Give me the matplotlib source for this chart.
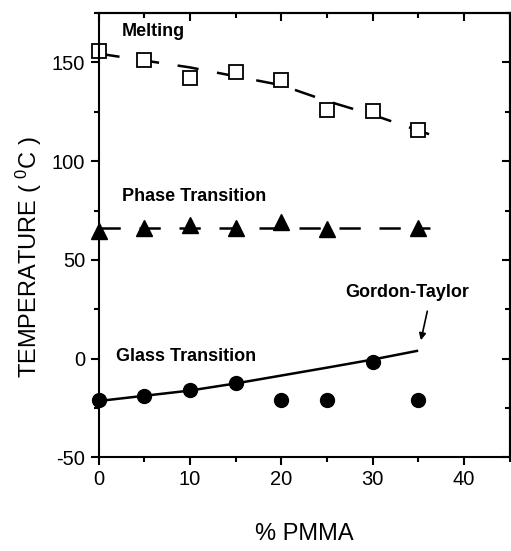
import matplotlib
matplotlib.use("Agg")
import matplotlib.pyplot as plt
from matplotlib.ticker import MultipleLocator

plt.rcParams['font.family'] = ['Liberation Sans', 'DejaVu Sans']
plt.rcParams['axes.unicode_minus'] = False

# measured points
pmma = [0, 5, 10, 15, 20, 25, 30, 35]
melting = [156, 151, 142, 145, 141, 126, 125.5, 115.6]

pmma_phase = [0, 5, 10, 15, 20, 25, 35]
phase = [64.7, 66, 67.7, 66, 69.4, 65.5, 66.4]

glass = [-21.1, -19, -16, -12.4, -21, -21, -1.7, -21]

# guide curves
melt_fit_x = [0, 10, 20, 25, 30, 36.3]
melt_fit_y = [154.5, 147.5, 138.5, 130.5, 123.5, 113.5]

phase_fit_x = [0, 36.3]
phase_fit_y = [66, 66]

gt_x = [0, 10, 15, 20, 25, 30, 35]
gt_y = [-21.5, -16.2, -12.6, -8.6, -4.6, -0.5, 4]

fig = plt.figure(figsize=(5.11, 5.51), dpi=100)
ax = fig.add_axes([98.5/511, 93.7/551, (509.5-98.5)/511, (457.3-13.1)/551])

ax.plot(melt_fit_x, melt_fit_y, color='black', lw=1.8, dashes=(8.5, 7.5))
ax.plot(phase_fit_x, phase_fit_y, color='black', lw=1.8, dashes=(8.5, 7.5))
ax.plot(gt_x, gt_y, color='black', lw=1.8, solid_capstyle='butt')

ax.plot(pmma, melting, 's', ms=9.5, mfc='white', mec='black', mew=1.3, clip_on=False)
ax.plot(pmma_phase, phase, '^', ms=11, color='black', clip_on=False)
ax.plot(pmma, glass, 'o', ms=10, color='black', clip_on=False)

bold = dict(fontsize=13, fontweight='bold')
ax.text(2.6, 165.5, 'Melting', va='center', ha='left', **bold)
ax.text(2.6, 82, 'Phase Transition', va='center', ha='left', **bold)
ax.text(1.9, 1.2, 'Glass Transition', va='center', ha='left', **bold)
ax.text(33.8, 33.5, 'Gordon-Taylor', va='center', ha='center', **bold)
ax.annotate('', xy=(35.3, 9.3), xytext=(36.0, 24.0),
            arrowprops=dict(arrowstyle='-|>', color='black', lw=1.2,
                            mutation_scale=10, shrinkA=0, shrinkB=0))

ax.set_xlim(0, 45)
ax.set_ylim(-50, 175)
ax.xaxis.set_major_locator(MultipleLocator(10))
ax.xaxis.set_minor_locator(MultipleLocator(5))
ax.yaxis.set_major_locator(MultipleLocator(50))
ax.yaxis.set_minor_locator(MultipleLocator(25))

for s in ax.spines.values():
    s.set_linewidth(1.5)

ax.tick_params(which='both', direction='out', width=1.5, labelsize=14.5,
               top=False, right=False)
ax.tick_params(which='major', length=6)
ax.tick_params(which='minor', length=3.5)

# mirrored ticks pointing inward on top and right
top = ax.secondary_xaxis('top')
top.xaxis.set_major_locator(MultipleLocator(10))
top.xaxis.set_minor_locator(MultipleLocator(5))
top.tick_params(which='both', direction='in', width=1.5, labeltop=False)
top.tick_params(which='major', length=6)
top.tick_params(which='minor', length=3.5)
top.spines['top'].set_linewidth(1.5)
right = ax.secondary_yaxis('right')
right.yaxis.set_major_locator(MultipleLocator(50))
right.yaxis.set_minor_locator(MultipleLocator(25))
right.tick_params(which='both', direction='in', width=1.5, labelright=False)
right.tick_params(which='major', length=6)
right.tick_params(which='minor', length=3.5)
right.spines['right'].set_linewidth(1.5)

ax.set_xlabel('% PMMA', fontsize=17, labelpad=24)
ax.set_ylabel('TEMPERATURE ( $\\mathregular{^{0}}$C )', fontsize=17)
ax.yaxis.set_label_coords(-0.133, 0.451)

fig.savefig('out.png', dpi=100)
